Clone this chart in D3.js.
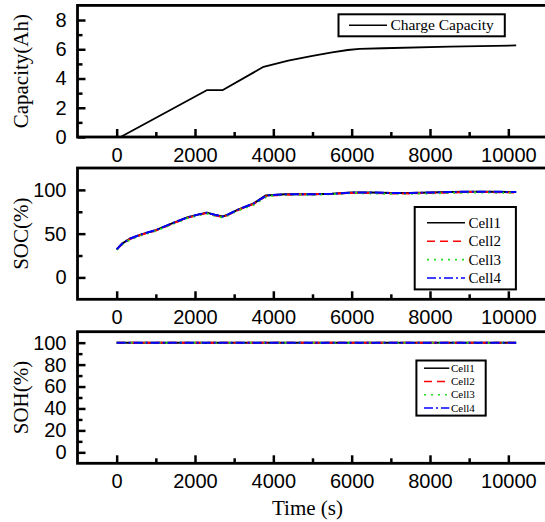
<!DOCTYPE html>
<html>
<head>
<meta charset="utf-8">
<script src="https://cdn.jsdelivr.net/npm/d3@7"></script>
<style>
  html, body { margin: 0; padding: 0; background: #fff; }
  svg { display: block; }
</style>
</head>
<body>
<svg id="chart" width="545" height="522"></svg>
<script>
// ---- data ----
const timeTicks = [0, 2000, 4000, 6000, 8000, 10000];
const timeMinor = [1000, 3000, 5000, 7000, 9000];

// charge capacity (Ah) over time (s)
const capTime = [100, 2300, 2700, 3750, 4380, 5000, 5500, 5900, 6200, 6800, 8500, 10200];
const capValue = [0, 3.2, 3.2, 4.8, 5.23, 5.55, 5.78, 5.95, 6.03, 6.07, 6.18, 6.26];
const capTicks = [0, 2, 4, 6, 8];
const capMinor = [1, 3, 5, 7];

// state of charge (%) per cell
const socTime = [0, 150, 350, 650, 1000, 1400, 1800, 2100, 2300, 2500, 2700, 2850, 3100, 3500, 3800, 3900, 4300, 5000, 5500, 6000, 6500, 7000, 7500, 8000, 8500, 9000, 9500, 10200];
const socCell1 = [32, 39, 44.5, 49.5, 54, 61.5, 68.5, 72, 74, 71.5, 69.5, 72, 77.5, 84.5, 93.5, 94, 95, 95, 95.5, 97, 97, 96.5, 96.5, 97, 97.5, 98, 98, 97.5];
const socCell2 = [32, 38.5, 44, 49, 53.5, 61, 68, 71.5, 73.5, 71, 69, 71.5, 77, 84, 92.5, 93.5, 94.5, 95, 95.5, 96.5, 96.5, 96, 96, 96.5, 97, 97.5, 97.5, 97];
const socCell3 = [31.5, 38, 43.5, 48.5, 53, 60.5, 67.5, 71, 73, 70.5, 68.5, 71, 76.5, 83, 91.5, 93, 94.5, 94.5, 95, 96.5, 96, 95.5, 95.5, 96, 96.5, 97, 97, 96.5];
const socCell4 = [32, 39, 44.5, 49.5, 54, 61.5, 68.5, 72, 74, 71.5, 69.5, 72, 77.5, 84.5, 93, 94, 95, 95, 95.5, 97, 97, 96.5, 96.5, 97, 97.5, 98, 98, 97.5];
const socTicks = [0, 50, 100];
const socMinor = [25, 75];

// state of health (%) per cell
const sohTime = [0, 10200];
const sohCell1 = [100, 100];
const sohCell2 = [100, 100];
const sohCell3 = [100, 100];
const sohCell4 = [100, 100];
const sohTicks = [0, 20, 40, 60, 80, 100];
const sohMinor = [10, 30, 50, 70, 90];

const cellNames = ["Cell1", "Cell2", "Cell3", "Cell4"];

// ---- styles ----
const cellStyle = [
  { color: "#000000", dash: null },
  { color: "#ff0000", dash: "8,5" },
  { color: "#22dd22", dash: "2,5" },
  { color: "#0000ff", dash: "9,3,2,3" }
];
const tickFont = "'Liberation Sans', Arial, sans-serif";
const titleFont = "'Liberation Serif', 'Times New Roman', serif";

const svg = d3.select("#chart");

const x = d3.scaleLinear().domain([-1000, 11000]).range([77.5, 547.5]);

function panel(opts) {
  const y = d3.scaleLinear().domain(opts.yDomain).range(opts.yRange);
  const g = svg.append("g");
  const [x0, x1] = x.range();
  const [yb, yt] = y.range();

  // bottom axis
  const ax = g.append("g").attr("transform", `translate(0,${yb})`)
    .call(d3.axisBottom(x).tickValues(timeTicks).tickSize(-8).tickPadding(11).tickFormat(d3.format("d")));
  ax.select(".domain").remove();
  ax.selectAll(".tick line").attr("stroke", "#000").attr("stroke-width", 2.5);
  ax.selectAll(".tick text").attr("font-family", tickFont).attr("font-size", 20).attr("fill", "#000");
  const axm = g.append("g").attr("transform", `translate(0,${yb})`)
    .call(d3.axisBottom(x).tickValues(timeMinor).tickSize(-5).tickFormat(""));
  axm.select(".domain").remove();
  axm.selectAll(".tick line").attr("stroke", "#000").attr("stroke-width", 2.5);

  // left axis
  const ay = g.append("g").attr("transform", `translate(${x0},0)`)
    .call(d3.axisLeft(y).tickValues(opts.yTicks).tickSize(-8).tickPadding(11));
  ay.select(".domain").remove();
  ay.selectAll(".tick line").attr("stroke", "#000").attr("stroke-width", 2.5);
  ay.selectAll(".tick text").attr("font-family", tickFont).attr("font-size", 20).attr("fill", "#000");
  const aym = g.append("g").attr("transform", `translate(${x0},0)`)
    .call(d3.axisLeft(y).tickValues(opts.yMinor).tickSize(-5).tickFormat(""));
  aym.select(".domain").remove();
  aym.selectAll(".tick line").attr("stroke", "#000").attr("stroke-width", 2.5);

  // series
  const line = d3.line().x(d => x(d[0])).y(d => y(d[1]));
  opts.series.forEach(s => {
    g.append("path")
      .datum(s.t.map((t, i) => [t, s.v[i]]))
      .attr("d", line)
      .attr("fill", "none")
      .attr("stroke", s.style.color)
      .attr("stroke-width", opts.lineWidth)
      .attr("stroke-dasharray", s.style.dash)
      .attr("stroke-linejoin", "round");
  });

  // frame
  g.append("rect")
    .attr("x", x0).attr("y", yt)
    .attr("width", x1 - x0).attr("height", yb - yt)
    .attr("fill", "none").attr("stroke", "#000").attr("stroke-width", 2.8);

  // y title
  g.append("text")
    .attr("transform", `translate(28,${(yb + yt) / 2}) rotate(-90)`)
    .attr("text-anchor", "middle")
    .attr("font-family", titleFont).attr("font-size", 21)
    .text(opts.yTitle);

  // legend
  const L = opts.legend;
  const lg = g.append("g");
  lg.append("rect")
    .attr("x", L.x).attr("y", L.y).attr("width", L.w).attr("height", L.h)
    .attr("fill", "#fff").attr("stroke", "#000").attr("stroke-width", 2);
  L.items.forEach((it, i) => {
    const cy = L.firstY + i * L.step;
    lg.append("line")
      .attr("x1", L.lineX0).attr("x2", L.lineX1).attr("y1", cy).attr("y2", cy)
      .attr("stroke", it.style.color).attr("stroke-width", L.lw)
      .attr("stroke-dasharray", it.style.dash);
    lg.append("text")
      .attr("x", L.textX).attr("y", cy).attr("dy", "0.33em")
      .attr("font-family", titleFont).attr("font-size", L.fs)
      .text(it.label);
  });
  return g;
}

// capacity panel
panel({
  yDomain: [0, 9], yRange: [137, 5.4], yTicks: capTicks, yMinor: capMinor,
  yTitle: "Capacity(Ah)", lineWidth: 1.8,
  series: [{ t: capTime, v: capValue, style: { color: "#000", dash: null } }],
  legend: { x: 338.5, y: 14.3, w: 166.3, h: 22, firstY: 25.3, step: 0,
            lineX0: 349, lineX1: 387, textX: 390.4, fs: 15.5, lw: 1.5,
            items: [{ label: "Charge Capacity", style: { color: "#000", dash: null } }] }
});

// SOC panel
const socCells = [socCell1, socCell2, socCell3, socCell4];
panel({
  yDomain: [-25, 125], yRange: [299.3, 168], yTicks: socTicks, yMinor: socMinor,
  yTitle: "SOC(%)", lineWidth: 2,
  series: socCells.map((v, i) => ({ t: socTime, v, style: cellStyle[i] })),
  legend: { x: 414.7, y: 207, w: 101.2, h: 82.4, firstY: 222.8, step: 18.4,
            lineX0: 427, lineX1: 465, textX: 468.4, fs: 15, lw: 1.6,
            items: cellNames.map((n, i) => ({ label: n, style: cellStyle[i] })) }
});

// SOH panel
const sohCells = [sohCell1, sohCell2, sohCell3, sohCell4];
panel({
  yDomain: [-10, 110], yRange: [463.3, 331.7], yTicks: sohTicks, yMinor: sohMinor,
  yTitle: "SOH(%)", lineWidth: 2,
  series: sohCells.map((v, i) => ({ t: sohTime, v, style: cellStyle[i] })),
  legend: { x: 416.4, y: 360.5, w: 69.3, h: 55.1, firstY: 368.2, step: 13.3,
            lineX0: 424, lineX1: 449.3, textX: 451, fs: 11, lw: 1.5,
            items: cellNames.map((n, i) => ({ label: n, style: cellStyle[i] })) }
});

// shared x title
svg.append("text")
  .attr("x", (x(0) + x(10000)) / 2 - 5).attr("y", 515)
  .attr("text-anchor", "middle")
  .attr("font-family", titleFont).attr("font-size", 21)
  .text("Time (s)");
</script>
</body>
</html>
